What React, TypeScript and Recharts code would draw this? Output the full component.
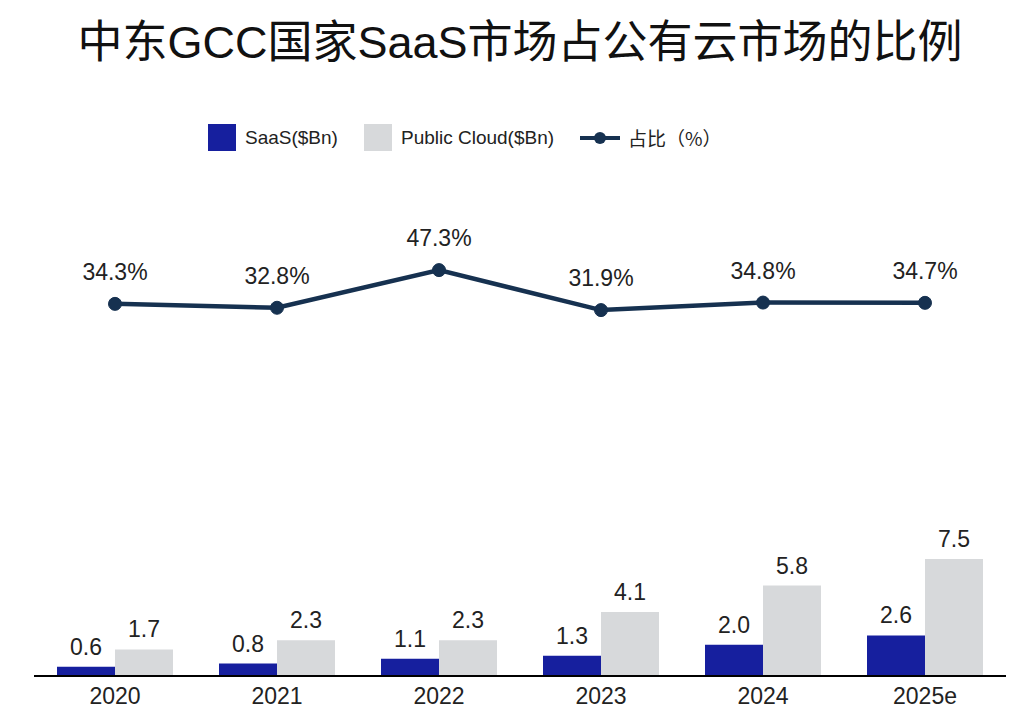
import {
  ComposedChart,
  Bar,
  Line,
  XAxis,
  YAxis,
  LabelList,
} from "recharts";

const YEARS = ["2020", "2021", "2022", "2023", "2024", "2025e"];
const SAAS = [0.6, 0.8, 1.1, 1.3, 2.0, 2.6];
const PUBLIC_CLOUD = [1.7, 2.3, 2.3, 4.1, 5.8, 7.5];
const SHARE = [34.3, 32.8, 47.3, 31.9, 34.8, 34.7];

const SAAS_COLOR = "#161f9e";
const CLOUD_COLOR = "#d7d9db";
const LINE_COLOR = "#163150";
const FONT = "'Liberation Sans', Arial, 'Noto Sans CJK SC', sans-serif";

const chartData = YEARS.map((year, i) => ({
  year,
  saas: SAAS[i],
  cloud: PUBLIC_CLOUD[i],
  share: SHARE[i],
}));

const LEGEND_ITEMS = [
  { key: "saas", label: "SaaS($Bn)", kind: "box", color: SAAS_COLOR },
  { key: "cloud", label: "Public Cloud($Bn)", kind: "box", color: CLOUD_COLOR },
  { key: "share", label: "占比（%）", kind: "line", color: LINE_COLOR },
];

function ChartLegend() {
  return (
    <div
      style={{
        position: "absolute",
        top: 124,
        left: 208,
        display: "flex",
        alignItems: "center",
        fontFamily: FONT,
        fontSize: 19,
        color: "#222",
      }}
    >
      {LEGEND_ITEMS.map((item) => (
        <div key={item.key} style={{ display: "flex", alignItems: "center", marginRight: 26 }}>
          {item.kind === "box" ? (
            <span style={{ width: 28, height: 27, background: item.color, marginRight: 9 }} />
          ) : (
            <svg width={40} height={20} style={{ marginRight: 8 }}>
              <line x1={0} y1={10} x2={40} y2={10} stroke={item.color} strokeWidth={4} />
              <circle cx={20} cy={10} r={6} fill={item.color} />
            </svg>
          )}
          <span style={{ fontFamily: item.kind === "line" ? "'Noto Sans CJK SC', sans-serif" : FONT }}>
            {item.label}
          </span>
        </div>
      ))}
    </div>
  );
}

export default function App() {
  return (
    <div style={{ position: "absolute", left: 0, top: 0, width: 1024, height: 725, background: "#fff" }}>
      <div
        style={{
          position: "absolute",
          top: 14,
          left: 8,
          width: 1024,
          textAlign: "center",
          fontFamily: FONT,
          fontSize: 45,
          color: "#111",
          lineHeight: "58px",
        }}
      >
        中东GCC国家SaaS市场占公有云市场的比例
      </div>
      <ChartLegend />
      <ComposedChart
        width={1024}
        height={725}
        data={chartData}
        margin={{ top: 180, right: 18, left: 34, bottom: 0 }}
        barGap={0}
      >
        <XAxis
          dataKey="year"
          height={49}
          axisLine={{ stroke: "#000", strokeWidth: 2 }}
          tickLine={false}
          tickMargin={6}
          tick={{ fontSize: 23, fill: "#222", fontFamily: FONT }}
        />
        <YAxis yAxisId="bars" hide domain={[0, 31.8]} />
        <YAxis yAxisId="share" hide domain={[-109, 82]} />
        <Bar yAxisId="bars" dataKey="saas" fill={SAAS_COLOR} barSize={58} isAnimationActive={false}>
          <LabelList
            dataKey="saas"
            position="top"
            offset={12}
            formatter={(v: number) => v.toFixed(1)}
            style={{ fontSize: 23, fill: "#222", fontFamily: FONT }}
          />
        </Bar>
        <Bar yAxisId="bars" dataKey="cloud" fill={CLOUD_COLOR} barSize={58} isAnimationActive={false}>
          <LabelList
            dataKey="cloud"
            position="top"
            offset={12}
            formatter={(v: number) => v.toFixed(1)}
            style={{ fontSize: 23, fill: "#222", fontFamily: FONT }}
          />
        </Bar>
        <Line
          yAxisId="share"
          dataKey="share"
          stroke={LINE_COLOR}
          strokeWidth={4.5}
          dot={{ r: 6.5, fill: LINE_COLOR, stroke: LINE_COLOR, strokeWidth: 1 }}
          isAnimationActive={false}
        >
          <LabelList
            dataKey="share"
            position="top"
            offset={24}
            formatter={(v: number) => `${v.toFixed(1)}%`}
            style={{ fontSize: 23, fill: "#222", fontFamily: FONT }}
          />
        </Line>
      </ComposedChart>
    </div>
  );
}
